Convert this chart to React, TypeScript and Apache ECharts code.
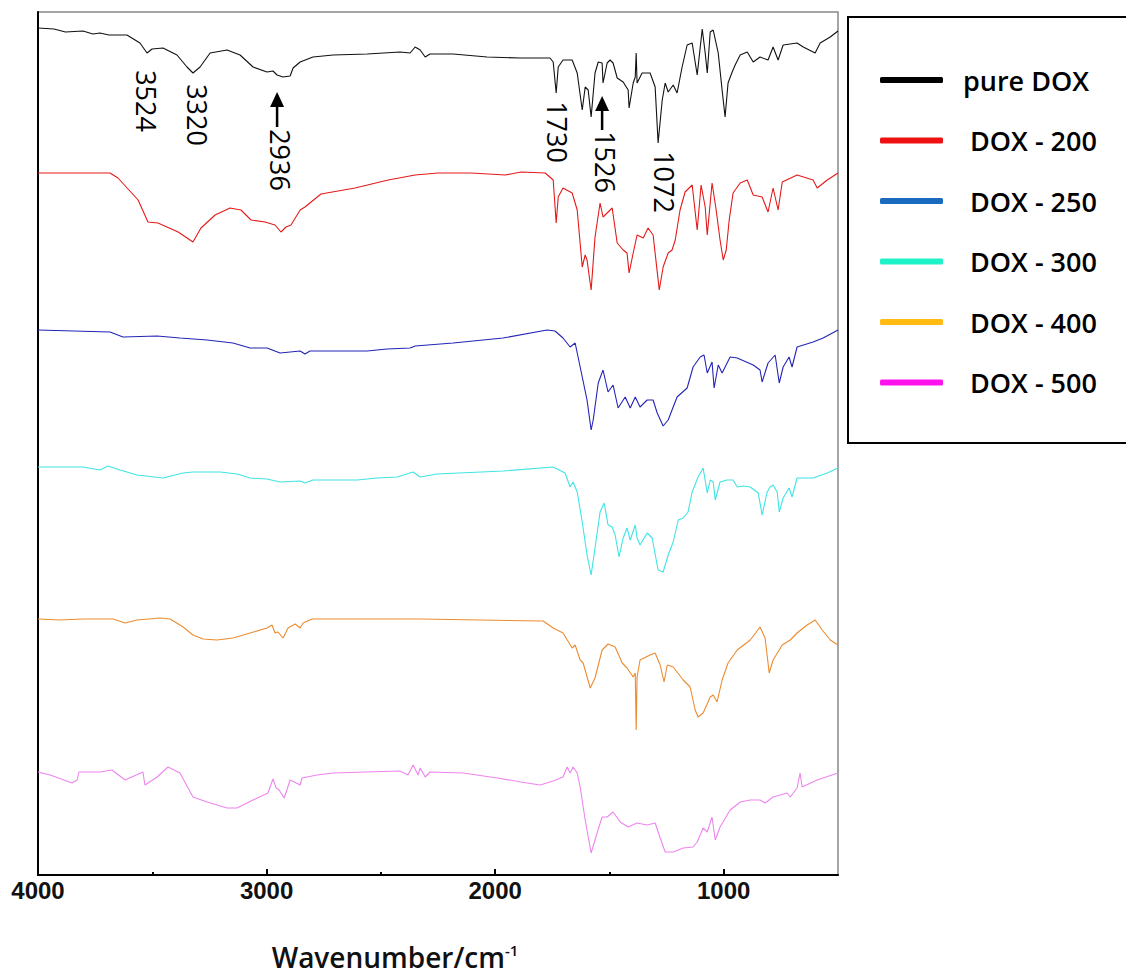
import React, { useEffect, useRef } from "react";
import * as echarts from "echarts";

// Wavenumber (cm-1) vs offset transmittance (a.u.)
const seriesNames = ["pure DOX", "DOX - 200", "DOX - 250", "DOX - 300", "DOX - 400", "DOX - 500"];
const lineColors = ["#111111", "#e41a1a", "#2424b8", "#40e4e4", "#ec8c30", "#ee85ee"];
const legendColors = ["#000000", "#ee1111", "#1a6abf", "#1ef2c8", "#ffbb11", "#ff11ee"];

const xTickValues = [4000, 3000, 2000, 1000];
const xMinorTickValues = [3500, 2500, 1500];

const pureDOX = [
  [4000, 847], [3930, 846], [3880, 843], [3803, 844], [3760, 841], [3729, 842], [3690, 840], [3611, 840], [3554, 832], [3523, 822], [3501, 826], [3453, 827],
  [3392, 820], [3348, 808], [3322, 802], [3291, 808], [3247, 822], [3173, 825], [3116, 820], [3059, 808],
  [2998, 803], [2972, 804], [2954, 800], [2928, 798], [2897, 799], [2884, 807], [2853, 813], [2797, 818],
  [2709, 820], [2560, 821], [2416, 823], [2372, 822], [2350, 828], [2328, 825], [2306, 818], [2285, 821],
  [2184, 821], [2035, 818], [1891, 817], [1760, 817], [1746, 813], [1733, 782], [1724, 808], [1703, 815],
  [1663, 815], [1641, 802], [1619, 765], [1606, 788], [1593, 785], [1580, 758], [1563, 802], [1549, 813],
  [1532, 812], [1528, 792], [1510, 812], [1497, 815], [1484, 812], [1466, 797], [1440, 793], [1418, 785],
  [1414, 767], [1396, 792], [1387, 798], [1383, 822], [1379, 792], [1357, 802], [1322, 802], [1300, 788],
  [1287, 732], [1269, 775], [1256, 792], [1243, 783], [1221, 790], [1204, 782], [1182, 808], [1160, 830],
  [1138, 832], [1116, 800], [1094, 846], [1081, 822], [1072, 802], [1059, 843], [1046, 845], [1024, 822],
  [1007, 785], [994, 758], [981, 792], [963, 803], [950, 810], [928, 820], [897, 823], [871, 813],
  [841, 818], [806, 815], [784, 828], [762, 815], [740, 830], [679, 832], [652, 828], [600, 822],
  [578, 832], [534, 838], [500, 844],
];

const dox200 = [
  [4000, 702], [3737, 702], [3685, 702], [3650, 697], [3562, 675], [3519, 653], [3475, 652], [3387, 643],
  [3322, 633], [3287, 647], [3225, 660], [3160, 667], [3112, 665], [3068, 655], [3007, 653], [2963, 650],
  [2937, 643], [2915, 648], [2893, 650], [2853, 665], [2832, 668], [2762, 681], [2613, 687], [2468, 695],
  [2350, 700], [2250, 702], [2105, 702], [1956, 700], [1886, 703], [1781, 702], [1746, 695], [1733, 652],
  [1724, 678], [1703, 687], [1663, 682], [1641, 665], [1619, 608], [1606, 620], [1598, 615], [1580, 585],
  [1563, 638], [1541, 672], [1528, 658], [1510, 662], [1488, 667], [1466, 632], [1440, 625], [1423, 622],
  [1414, 602], [1396, 622], [1379, 640], [1352, 637], [1331, 647], [1309, 640], [1282, 585], [1265, 608],
  [1243, 622], [1226, 625], [1212, 635], [1191, 665], [1169, 683], [1138, 690], [1116, 645], [1099, 690],
  [1081, 668], [1072, 640], [1051, 692], [1033, 665], [1016, 635], [1002, 615], [989, 625], [976, 655],
  [959, 682], [928, 692], [897, 695], [871, 680], [832, 678], [806, 663], [784, 687], [762, 665],
  [744, 693], [679, 700], [609, 695], [591, 687], [547, 695], [500, 702],
];

const dox250 = [
  [4000, 545], [3685, 543], [3628, 538], [3479, 539], [3379, 537], [3260, 535], [3147, 532], [3072, 527],
  [2998, 527], [2941, 522], [2897, 523], [2853, 524], [2832, 521], [2810, 524], [2560, 524], [2473, 526],
  [2372, 527], [2350, 529], [2184, 532], [1965, 537], [1773, 545], [1738, 544], [1703, 537], [1672, 528],
  [1650, 532], [1628, 508], [1598, 475], [1580, 445], [1571, 455], [1549, 492], [1528, 505], [1506, 483],
  [1484, 490], [1462, 467], [1431, 478], [1409, 467], [1387, 478], [1366, 468], [1335, 475], [1309, 475],
  [1291, 462], [1265, 449], [1243, 455], [1204, 478], [1160, 487], [1134, 508], [1103, 518], [1086, 520],
  [1072, 502], [1051, 513], [1042, 487], [1024, 510], [1007, 502], [972, 518], [941, 517], [871, 510],
  [841, 505], [832, 493], [806, 512], [775, 520], [757, 492], [740, 508], [714, 518], [701, 508],
  [679, 528], [609, 533], [565, 537], [500, 545],
];

const dox300 = [
  [4000, 408], [3803, 408], [3729, 405], [3694, 409], [3641, 405], [3567, 400], [3453, 397], [3366, 402],
  [3322, 403], [3204, 403], [3129, 401], [3072, 397], [2998, 396], [2941, 393], [2853, 394], [2832, 392],
  [2797, 395], [2604, 395], [2517, 397], [2429, 398], [2359, 403], [2328, 398], [2254, 401], [1965, 404],
  [1746, 408], [1694, 402], [1672, 388], [1659, 393], [1641, 383], [1619, 353], [1598, 320], [1580, 300],
  [1563, 327], [1541, 363], [1523, 372], [1506, 350], [1488, 348], [1475, 340], [1458, 318], [1440, 337],
  [1423, 347], [1409, 335], [1387, 350], [1379, 337], [1366, 330], [1335, 342], [1313, 337], [1287, 305],
  [1265, 303], [1243, 320], [1221, 333], [1199, 355], [1177, 357], [1156, 363], [1138, 383], [1112, 398],
  [1090, 407], [1072, 382], [1059, 395], [1046, 393], [1037, 375], [1016, 393], [985, 395], [959, 395],
  [941, 388], [915, 389], [884, 388], [849, 382], [832, 360], [810, 383], [797, 388], [784, 390],
  [766, 383], [757, 363], [740, 377], [714, 387], [701, 378], [679, 397], [609, 397], [547, 402],
  [500, 407],
];

const dox400 = [
  [4000, 256], [3904, 255], [3803, 256], [3672, 256], [3619, 252], [3567, 255], [3466, 257], [3422, 256],
  [3365, 248], [3322, 240], [3278, 236], [3217, 235], [3147, 237], [3072, 242], [2998, 247], [2976, 250],
  [2963, 242], [2950, 243], [2928, 237], [2906, 247], [2875, 251], [2853, 247], [2840, 252], [2801, 256],
  [2328, 256], [1790, 254], [1746, 247], [1703, 242], [1663, 227], [1650, 230], [1628, 215], [1615, 212],
  [1584, 187], [1563, 197], [1532, 225], [1506, 231], [1475, 228], [1444, 212], [1423, 207], [1396, 198],
  [1387, 202], [1383, 145], [1379, 198], [1366, 215], [1322, 220], [1300, 222], [1278, 210], [1261, 193],
  [1247, 210], [1221, 208], [1177, 195], [1147, 188], [1125, 165], [1112, 158], [1090, 162], [1059, 178],
  [1046, 180], [1029, 173], [1007, 195], [981, 212], [941, 225], [884, 235], [841, 248], [819, 237],
  [801, 202], [784, 215], [744, 230], [709, 235], [679, 242], [635, 250], [600, 255], [569, 245],
  [534, 235], [500, 230],
];

const dox500 = [
  [4000, 103], [3947, 100], [3851, 92], [3829, 95], [3821, 103], [3729, 103], [3676, 105], [3619, 95],
  [3541, 103], [3532, 90], [3479, 98], [3431, 108], [3379, 102], [3322, 78], [3260, 73], [3173, 67],
  [3129, 67], [3059, 75], [2994, 82], [2972, 96], [2958, 87], [2945, 85], [2923, 77], [2897, 95],
  [2853, 90], [2845, 97], [2779, 100], [2709, 102], [2416, 104], [2381, 100], [2359, 110], [2337, 100],
  [2328, 107], [2306, 98], [2285, 103], [2140, 102], [1991, 97], [1860, 92], [1803, 90], [1746, 94],
  [1703, 98], [1685, 108], [1672, 102], [1659, 108], [1641, 102], [1628, 88], [1606, 55], [1580, 22],
  [1567, 32], [1554, 42], [1532, 58], [1510, 58], [1484, 63], [1453, 53], [1418, 48], [1379, 52],
  [1335, 50], [1300, 52], [1278, 37], [1256, 23], [1221, 23], [1177, 27], [1134, 28], [1116, 33],
  [1090, 47], [1072, 43], [1051, 58], [1037, 35], [1016, 48], [972, 65], [928, 73], [884, 75],
  [841, 75], [819, 72], [784, 78], [722, 82], [709, 78], [679, 87], [666, 102], [657, 88],
  [591, 95], [500, 102],
];

const allSeries = [pureDOX, dox200, dox250, dox300, dox400, dox500];

// Peak annotations: label text, wavenumber / value of label centre
const peakLabels = ["3524", "3320", "2936", "1730", "1526", "1072"];
const peakLabelX = [3527, 3304, 2937, 1729, 1519, 1261];
const peakLabelY = [774, 760, 715, 743, 713, 693];
// Arrows: wavenumber, tip value, tail value
const arrowX = [2954, 1532];
const arrowTipY = [783, 779];
const arrowTailY = [748, 745];

export default function App() {
  const ref = useRef<HTMLDivElement>(null);

  useEffect(() => {
    document.body.style.margin = "0";
    if (!ref.current) return;
    const chart = echarts.init(ref.current, null, { renderer: "svg" });

    const option: any = {
      animation: false,
      backgroundColor: "#ffffff",
      grid: {
        left: 38,
        right: 288,
        top: 12,
        bottom: 101,
        show: true,
        borderColor: "#888888",
        borderWidth: 1.5,
        containLabel: false,
      },
      xAxis: [
        {
          type: "value",
          min: 500,
          max: 4000,
          inverse: true,
          position: "bottom",
          name: "{a|Wavenumber/cm}{b|-1}",
          nameLocation: "middle",
          nameGap: 67,
          nameTextStyle: {
            padding: [0, 86, 0, 0],
            rich: {
              a: { fontFamily: "'Open Sans', sans-serif", fontSize: 28, fontWeight: 600, color: "#111" },
              b: { fontFamily: "'Open Sans', sans-serif", fontSize: 15, fontWeight: 600, color: "#111", padding: [0, 0, 14, 0] },
            },
          },
          axisLine: { show: true, lineStyle: { color: "#000", width: 2 } },
          axisTick: { show: true, inside: true, length: 6, customValues: xTickValues, lineStyle: { color: "#000", width: 2 } },
          axisLabel: {
            show: true,
            customValues: xTickValues,
            formatter: (v: number) => String(v),
            margin: 3,
            fontFamily: "'Liberation Sans', Arial, sans-serif",
            fontSize: 24,
            fontWeight: "bold",
            color: "#111",
          },
          splitLine: { show: false },
        },
        {
          type: "value",
          min: 500,
          max: 4000,
          inverse: true,
          position: "bottom",
          axisLine: { show: false },
          axisTick: { show: true, inside: true, length: 3, customValues: xMinorTickValues, lineStyle: { color: "#000", width: 2 } },
          axisLabel: { show: false },
          splitLine: { show: false },
        },
      ],
      yAxis: {
        type: "value",
        min: 0,
        max: 863,
        axisLine: { show: true, lineStyle: { color: "#000", width: 2 } },
        axisTick: { show: false },
        axisLabel: { show: false },
        splitLine: { show: false },
      },
      legend: {
        orient: "vertical",
        left: 880,
        top: 65,
        padding: 0,
        itemGap: 30.5,
        itemWidth: 63,
        itemHeight: 6,
        icon: "roundRect",
        selectedMode: false,
        formatter: (name: string) => (name === "pure DOX" ? name : " " + name),
        textStyle: {
          fontFamily: "'Open Sans', sans-serif",
          fontSize: 27,
          fontWeight: 600,
          color: "#000",
          lineHeight: 30,
          padding: [0, 0, 0, 15],
        },
        data: seriesNames.map((n, i) => ({ name: n, itemStyle: { color: legendColors[i] } })),
      },
      series: allSeries.map((d, i) => ({
        name: seriesNames[i],
        type: "line",
        xAxisIndex: 0,
        yAxisIndex: 0,
        data: d,
        showSymbol: false,
        symbol: "none",
        lineStyle: { color: lineColors[i], width: 1.1 },
        itemStyle: { color: lineColors[i] },
        silent: true,
      })),
    };

    chart.setOption(option);

    const toPx = (w: number, v: number) => chart.convertToPixel({ xAxisIndex: 0, yAxisIndex: 0 }, [w, v]) as number[];

    const graphics: any[] = [
      {
        type: "rect",
        shape: { x: 848, y: 17, width: 320, height: 426 },
        style: { fill: "none", stroke: "#000", lineWidth: 2 },
        silent: true,
      },
    ];
    peakLabels.forEach((t, i) => {
      const p = toPx(peakLabelX[i], peakLabelY[i]);
      graphics.push({
        type: "text",
        x: p[0],
        y: p[1],
        rotation: -Math.PI / 2,
        style: {
          text: t,
          fontFamily: "'Open Sans', sans-serif",
          fontSize: 27,
          fontWeight: 500,
          fill: "#000",
          align: "center",
          verticalAlign: "middle",
        },
        silent: true,
      });
    });
    arrowX.forEach((w, i) => {
      const tip = toPx(w, arrowTipY[i]);
      const tail = toPx(w, arrowTailY[i]);
      graphics.push({
        type: "line",
        shape: { x1: tip[0], y1: tip[1] + 12, x2: tail[0], y2: tail[1] },
        style: { stroke: "#000", lineWidth: 2.5 },
        silent: true,
      });
      graphics.push({
        type: "polygon",
        shape: { points: [[tip[0], tip[1]], [tip[0] - 7, tip[1] + 15], [tip[0] + 7, tip[1] + 15]] },
        style: { fill: "#000" },
        silent: true,
      });
    });
    chart.setOption({ graphic: graphics });

    return () => chart.dispose();
  }, []);

  return <div ref={ref} style={{ width: 1126, height: 976 }} />;
}
